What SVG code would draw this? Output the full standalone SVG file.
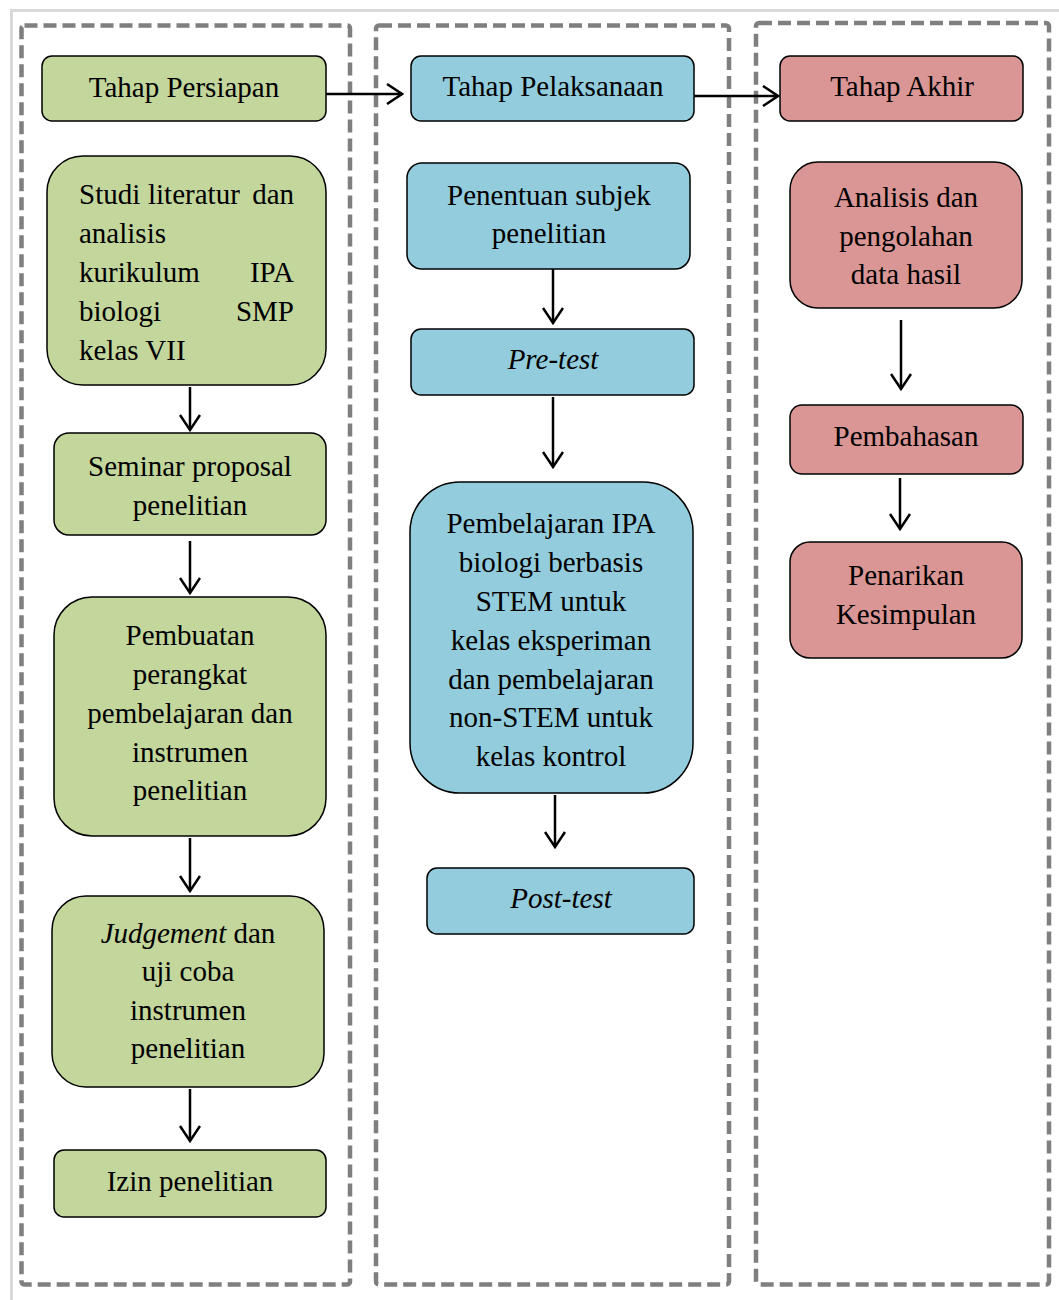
<svg xmlns="http://www.w3.org/2000/svg" width="1059" height="1300" viewBox="0 0 1059 1300">
<style>
text{font-family:'Liberation Serif','DejaVu Serif',serif;font-size:29px;fill:#000}
.c{text-anchor:middle}
.e{text-anchor:end}
.i{font-style:italic}
.g{fill:#c3d69b;stroke:#000;stroke-width:1.5}
.b{fill:#93cddd;stroke:#000;stroke-width:1.5}
.r{fill:#d99694;stroke:#000;stroke-width:1.5}
.col{fill:none;stroke:#7f7f7f;stroke-width:4.5;stroke-dasharray:13 6}
.cn{fill:none;stroke:#000;stroke-width:2.5}
</style>
<defs>
<marker id="ah" viewBox="0 0 18 22" refX="16" refY="11" markerWidth="18" markerHeight="22" markerUnits="userSpaceOnUse" orient="auto">
<path d="M1,1 L16,11 L1,21" fill="none" stroke="#000" stroke-width="2.5"/>
</marker>
</defs>
<rect x="0" y="0" width="1059" height="1300" fill="#fff"/>
<rect x="11.5" y="10.5" width="1100" height="1400" fill="none" stroke="#d9d9d9" stroke-width="3"/>
<g id="columns">
<rect class="col" x="21.5" y="25.5" width="328.5" height="1259" rx="3"/>
<rect class="col" x="376" y="25.5" width="353" height="1259" rx="3"/>
<rect class="col" x="756" y="23" width="293" height="1261.5" rx="3"/>
</g>
<g id="connectors">
<line class="cn" x1="326" y1="94" x2="402" y2="94" marker-end="url(#ah)" stroke-width="3"/>
<line class="cn" x1="690" y1="96" x2="778" y2="96" marker-end="url(#ah)" stroke-width="3"/>
<line class="cn" x1="190" y1="387" x2="190" y2="430" marker-end="url(#ah)"/>
<line class="cn" x1="190" y1="541" x2="190" y2="593" marker-end="url(#ah)"/>
<line class="cn" x1="190" y1="838" x2="190" y2="891" marker-end="url(#ah)"/>
<line class="cn" x1="190" y1="1089" x2="190" y2="1141" marker-end="url(#ah)"/>
<line class="cn" x1="553" y1="269" x2="553" y2="323" marker-end="url(#ah)"/>
<line class="cn" x1="553" y1="397" x2="553" y2="467" marker-end="url(#ah)"/>
<line class="cn" x1="555" y1="795" x2="555" y2="847" marker-end="url(#ah)"/>
<line class="cn" x1="901" y1="320" x2="901" y2="389" marker-end="url(#ah)"/>
<line class="cn" x1="900" y1="478" x2="900" y2="529" marker-end="url(#ah)"/>
</g>
<g font-family="'Liberation Serif', serif">
<g id="tahap-persiapan">
<rect class="g" x="42" y="56" width="284" height="65" rx="10"/>
<text class="c" x="184" y="97">Tahap Persiapan</text>
</g>
<g id="studi-literatur">
<rect class="g" x="47" y="156" width="279" height="229" rx="36"/>
<text x="79" y="204">Studi</text>
<text x="148" y="204">literatur</text>
<text class="e" x="294" y="204">dan</text>
<text x="79" y="243">analisis</text>
<text x="79" y="282">kurikulum</text>
<text class="e" x="294" y="282">IPA</text>
<text x="79" y="321">biologi</text>
<text class="e" x="294" y="321">SMP</text>
<text x="79" y="360">kelas VII</text>
</g>
<g id="seminar-proposal">
<rect class="g" x="54" y="433" width="272" height="102" rx="15"/>
<text class="c" x="190" y="476">Seminar proposal</text>
<text class="c" x="190" y="515">penelitian</text>
</g>
<g id="pembuatan-perangkat">
<rect class="g" x="54" y="597" width="272" height="239" rx="38"/>
<text class="c" x="190" y="645">Pembuatan</text>
<text class="c" x="190" y="684">perangkat</text>
<text class="c" x="190" y="723">pembelajaran dan</text>
<text class="c" x="190" y="762">instrumen</text>
<text class="c" x="190" y="800">penelitian</text>
</g>
<g id="judgement">
<rect class="g" x="52" y="896" width="272" height="191" rx="34"/>
<text class="c" x="188" y="943"><tspan class="i">Judgement</tspan> dan</text>
<text class="c" x="188" y="981">uji coba</text>
<text class="c" x="188" y="1020">instrumen</text>
<text class="c" x="188" y="1058">penelitian</text>
</g>
<g id="izin-penelitian">
<rect class="g" x="54" y="1150" width="272" height="67" rx="10"/>
<text class="c" x="190" y="1191">Izin penelitian</text>
</g>
<g id="tahap-pelaksanaan">
<rect class="b" x="411" y="56" width="283" height="65" rx="10"/>
<text class="c" x="553" y="96">Tahap Pelaksanaan</text>
</g>
<g id="penentuan-subjek">
<rect class="b" x="407" y="163" width="283" height="106" rx="15"/>
<text class="c" x="549" y="205">Penentuan subjek</text>
<text class="c" x="549" y="243">penelitian</text>
</g>
<g id="pre-test">
<rect class="b" x="411" y="329" width="283" height="66" rx="10"/>
<text class="c i" x="553" y="369">Pre-test</text>
</g>
<g id="pembelajaran">
<rect class="b" x="410" y="482" width="283" height="311" rx="50"/>
<text class="c" x="551" y="533">Pembelajaran IPA</text>
<text class="c" x="551" y="572">biologi berbasis</text>
<text class="c" x="551" y="611">STEM untuk</text>
<text class="c" x="551" y="650">kelas eksperiman</text>
<text class="c" x="551" y="689">dan pembelajaran</text>
<text class="c" x="551" y="727">non-STEM untuk</text>
<text class="c" x="551" y="766">kelas kontrol</text>
</g>
<g id="post-test">
<rect class="b" x="427" y="868" width="267" height="66" rx="10"/>
<text class="c i" x="561" y="908">Post-test</text>
</g>
<g id="tahap-akhir">
<rect class="r" x="780" y="56" width="243" height="65" rx="10"/>
<text class="c" x="902" y="96">Tahap Akhir</text>
</g>
<g id="analisis">
<rect class="r" x="790" y="162" width="232" height="146" rx="28"/>
<text class="c" x="906" y="207">Analisis dan</text>
<text class="c" x="906" y="246">pengolahan</text>
<text class="c" x="906" y="284">data hasil</text>
</g>
<g id="pembahasan">
<rect class="r" x="790" y="405" width="233" height="69" rx="12"/>
<text class="c" x="906" y="446">Pembahasan</text>
</g>
<g id="penarikan">
<rect class="r" x="790" y="542" width="232" height="116" rx="20"/>
<text class="c" x="906" y="585">Penarikan</text>
<text class="c" x="906" y="624">Kesimpulan</text>
</g>
</g>
</svg>
